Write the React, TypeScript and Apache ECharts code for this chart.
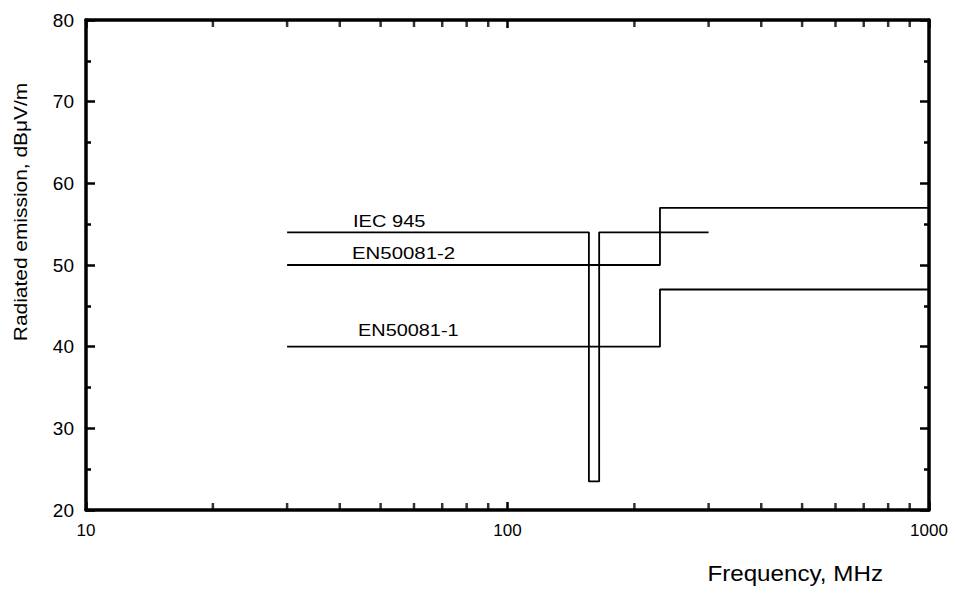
import React, { useEffect, useRef } from "react";
import * as echarts from "echarts";

// Frequency (MHz) / level (dBµV/m) step limits
const iecFreq = [30, 156, 156, 165, 165, 300];
const iecLevel = [54, 54, 23.5, 23.5, 54, 54];
const en2Freq = [30, 230, 230, 1000];
const en2Level = [50, 50, 57, 57];
const en1Freq = [30, 230, 230, 1000];
const en1Level = [40, 40, 47, 47];

// log-axis minor tick positions
const minorFreqTicks = [20, 30, 40, 50, 60, 70, 80, 90, 200, 300, 400, 500, 600, 700, 800, 900];
const xMin = 10;
const xMax = 1000;
const yMin = 20;
const yMax = 80;

const FONT = "'Liberation Sans', Arial, Helvetica, sans-serif";

export default function App() {
  const ref = useRef<HTMLDivElement>(null);
  useEffect(() => {
    if (!ref.current) return;
    const chart = echarts.init(ref.current, null, { renderer: "svg" });
    const zip = (xs: number[], ys: number[]) => xs.map((x, i) => [x, ys[i]]);
    const lineSeries = (name: string, xs: number[], ys: number[]) => ({
      name,
      type: "line",
      xAxisIndex: 0,
      yAxisIndex: 0,
      data: zip(xs, ys),
      symbol: "none",
      lineStyle: { color: "#000", width: 1.8 },
      z: 3,
    });
    const axisCommon = {
      axisLine: { show: true, onZero: false, lineStyle: { color: "#000", width: 3.5 } },
      splitLine: { show: false },
    };
    chart.setOption({
      animation: false,
      backgroundColor: "#fff",
      grid: { left: 86, right: 26, top: 20, bottom: 86 },
      xAxis: [
        {
          type: "log",
          logBase: 10,
          min: xMin,
          max: xMax,
          position: "bottom",
          ...axisCommon,
          axisTick: { show: true, inside: true, length: 8, lineStyle: { color: "#000", width: 2.5 } },
          axisLabel: { color: "#000", fontSize: 17, fontFamily: FONT, margin: 12, formatter: (v: number) => String(Math.round(v)) },
        },
        {
          type: "log",
          logBase: 10,
          min: xMin,
          max: xMax,
          position: "top",
          ...axisCommon,
          axisTick: { show: true, inside: true, length: 8, lineStyle: { color: "#000", width: 2.5 } },
          axisLabel: { show: false },
        },
      ],
      yAxis: [
        {
          type: "value",
          min: yMin,
          max: yMax,
          interval: 10,
          position: "left",
          ...axisCommon,
          axisTick: { show: true, inside: true, length: 9, lineStyle: { color: "#000", width: 2.5 } },
          minorTick: { show: true, splitNumber: 2, length: 5, lineStyle: { color: "#000", width: 2.5 } },
          axisLabel: { color: "#000", fontSize: 19, fontFamily: FONT, margin: 12 },
        },
        {
          type: "value",
          min: yMin,
          max: yMax,
          interval: 10,
          position: "right",
          ...axisCommon,
          axisTick: { show: true, inside: true, length: 9, lineStyle: { color: "#000", width: 2.5 } },
          minorTick: { show: true, splitNumber: 2, length: 5, lineStyle: { color: "#000", width: 2.5 } },
          axisLabel: { show: false },
        },
      ],
      series: [
        lineSeries("IEC 945", iecFreq, iecLevel),
        lineSeries("EN50081-2", en2Freq, en2Level),
        lineSeries("EN50081-1", en1Freq, en1Level),
        {
          type: "scatter",
          data: minorFreqTicks.map((f) => [f, yMin]),
          symbol: "rect",
          symbolSize: [2.5, 7],
          symbolOffset: [0, -3.5],
          itemStyle: { color: "#000" },
          clip: false,
          silent: true,
        },
        {
          type: "scatter",
          data: minorFreqTicks.map((f) => [f, yMax]),
          symbol: "rect",
          symbolSize: [2.5, 7],
          symbolOffset: [0, 3.5],
          itemStyle: { color: "#000" },
          clip: false,
          silent: true,
        },
      ],
      graphic: [
        {
          type: "text",
          x: 353,
          y: 221,
          scaleX: 1.18,
          style: { text: "IEC 945", font: `17px ${FONT}`, fill: "#000", verticalAlign: "middle" },
        },
        {
          type: "text",
          x: 352,
          y: 253,
          scaleX: 1.2,
          style: { text: "EN50081-2", font: `17px ${FONT}`, fill: "#000", verticalAlign: "middle" },
        },
        {
          type: "text",
          x: 358,
          y: 330,
          scaleX: 1.17,
          style: { text: "EN50081-1", font: `17px ${FONT}`, fill: "#000", verticalAlign: "middle" },
        },
        {
          type: "text",
          x: 883,
          y: 573,
          scaleX: 1.1,
          style: { text: "Frequency, MHz", font: `22px ${FONT}`, fill: "#000", align: "right", verticalAlign: "middle" },
        },
        {
          type: "text",
          x: 20,
          y: 212,
          rotation: Math.PI / 2,
          scaleX: 1.1,
          style: { text: "Radiated emission, dBμV/m", font: `19px ${FONT}`, fill: "#000", align: "center", verticalAlign: "middle" },
        },
      ],
    });
    return () => chart.dispose();
  }, []);
  return <div ref={ref} style={{ position: "fixed", left: 0, top: 0, width: 955, height: 596 }} />;
}
